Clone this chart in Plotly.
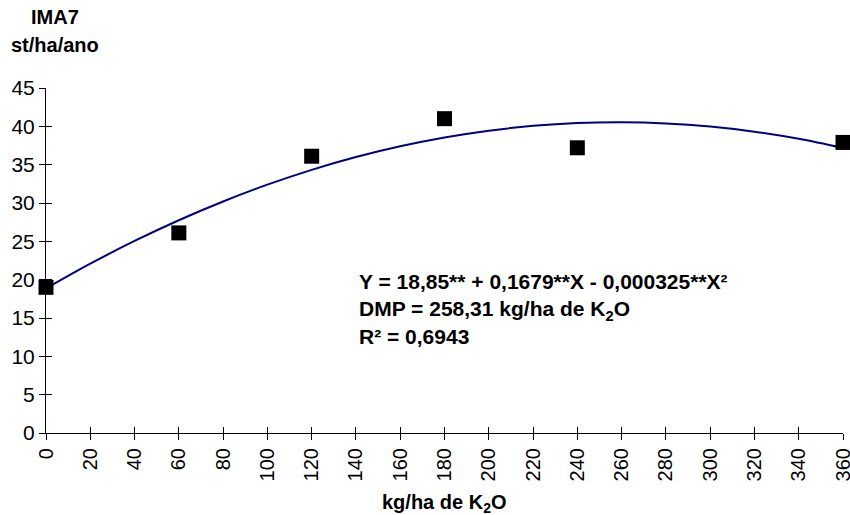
import plotly.graph_objects as go

# Observed data
x_obs = [0, 60, 120, 180, 240, 360]
y_obs = [19.0, 26.1, 36.1, 41.0, 37.2, 37.9]

# Trend curve
x_fit = [0, 20, 40, 60, 80, 100, 120, 140, 160, 180, 200, 220, 240, 260, 280, 300, 320, 340, 360]
y_fit = [18.85, 22.08, 25.05, 27.75, 30.2, 32.39, 34.32, 35.99, 37.39, 38.54, 39.43, 40.06,
         40.43, 40.53, 40.38, 39.97, 39.3, 38.37, 37.17]

x_ticks = list(range(0, 361, 20))
y_ticks = list(range(0, 46, 5))

FONT = "Liberation Sans, Arial, sans-serif"
TEXT_SIZE = 20

fig = go.Figure()
fig.add_trace(go.Scatter(x=x_fit, y=y_fit, mode="lines",
                         line=dict(color="#000080", width=2, shape="spline"),
                         showlegend=False, hoverinfo="skip"))
fig.add_trace(go.Scatter(x=x_obs, y=y_obs, mode="markers",
                         marker=dict(symbol="square", size=15, color="black"), showlegend=False,
                         cliponaxis=False))
# invisible trace for overlay axes (inside ticks)
fig.add_trace(go.Scatter(x=[0], y=[0], xaxis="x2", yaxis="y2", mode="markers",
                         marker=dict(opacity=0), showlegend=False, hoverinfo="skip"))

axis_common = dict(showgrid=False, zeroline=False, showline=True, linecolor="black", linewidth=1,
                   tickcolor="black", tickwidth=1, ticklen=6)

fig.update_layout(
    width=850, height=515,
    margin=dict(l=46, r=7, t=88, b=82, autoexpand=False),
    paper_bgcolor="white", plot_bgcolor="white",
    font=dict(family=FONT, size=20, color="black"),
    xaxis=dict(range=[0, 360], tickvals=x_ticks, ticks="outside", tickangle=-90,
               ticklabeloverflow="allow", tickfont=dict(size=20), **axis_common),
    yaxis=dict(range=[0, 45], tickvals=y_ticks, ticks="outside", ticklabeloverflow="allow",
               tickfont=dict(size=21), **axis_common),
    xaxis2=dict(range=[0, 360], tickvals=x_ticks, ticks="inside", showticklabels=False,
                overlaying="x", anchor="y2", side="bottom", showgrid=False, zeroline=False,
                showline=False, tickcolor="black", tickwidth=1, ticklen=6),
    yaxis2=dict(range=[0, 45], tickvals=y_ticks, ticks="inside", showticklabels=False,
                overlaying="y", anchor="x2", side="left", showgrid=False, zeroline=False,
                showline=False, tickcolor="black", tickwidth=1, ticklen=6),
    showlegend=False,
)

fig.add_annotation(text="<b>IMA7</b>", xref="paper", yref="paper", x=0, y=1, yanchor="middle",
                   xanchor="center", xshift=9, yshift=71, showarrow=False,
                   font=dict(size=TEXT_SIZE, family=FONT))
fig.add_annotation(text="<b>st/ha/ano</b>", xref="paper", yref="paper", x=0, y=1, yanchor="middle",
                   xanchor="center", xshift=9, yshift=43, showarrow=False,
                   font=dict(size=TEXT_SIZE, family=FONT))
fig.add_annotation(text="<b>kg/ha de K<sub>2</sub>O</b>", xref="paper", yref="paper", x=0.5, y=0,
                   yanchor="middle", xanchor="center", yshift=-70, showarrow=False,
                   font=dict(size=TEXT_SIZE, family=FONT))
fig.add_annotation(text="<b>Y = 18,85** + 0,1679**X - 0,000325**X²</b><br>"
                        "<b>DMP = 258,31 kg/ha de K<sub>2</sub>O</b><br>"
                        "<b>R² = 0,6943</b>",
                   xref="x", yref="y", x=140.3, y=21.5, xanchor="left", yanchor="top", align="left",
                   showarrow=False, font=dict(size=21, family=FONT))

# remove the default page margin so the 850x515 figure fills the window exactly
fig.write_html("out.html", config={"displayModeBar": False},
               post_script="document.body.style.margin='0';")
